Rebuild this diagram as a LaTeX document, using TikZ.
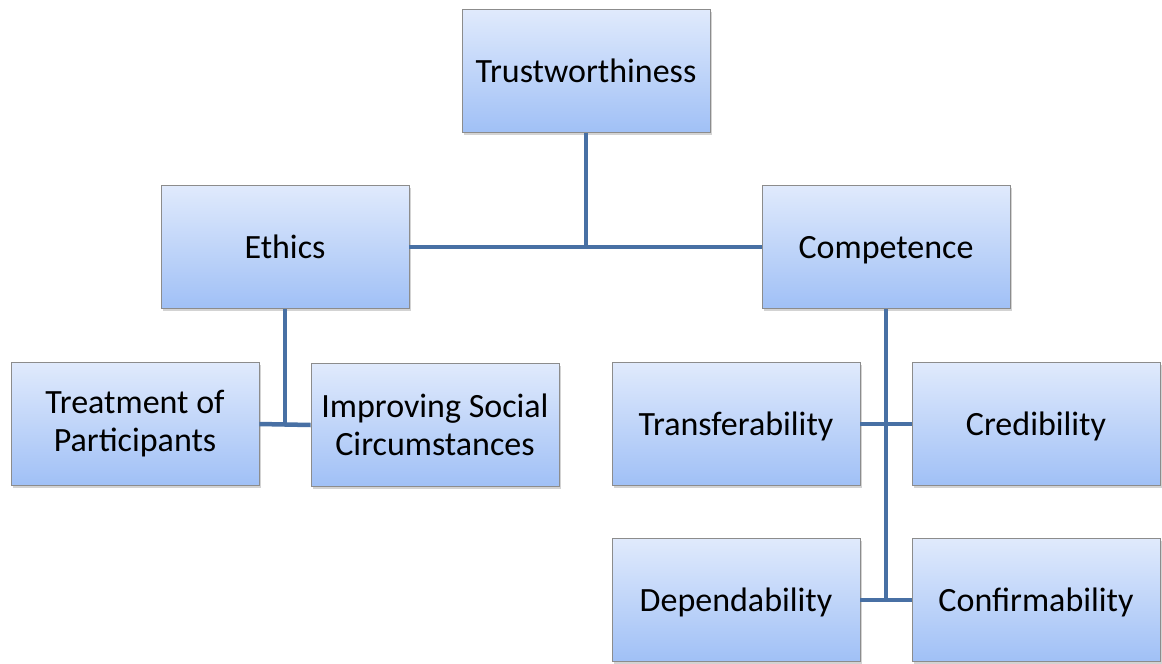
\documentclass[tikz,border=0pt]{standalone}
\usepackage{fontspec}
\setmainfont{Carlito}
\usetikzlibrary{shadows}
\definecolor{boxtop}{RGB}{224,234,252}
\definecolor{boxbot}{RGB}{160,192,246}
\definecolor{boxline}{RGB}{140,140,140}
\definecolor{linkblue}{RGB}{72,112,164}
\begin{document}
\begin{tikzpicture}[x=1pt, y=-1pt,
    termbox/.style={draw=boxline, line width=0.8pt, top color=boxtop, bottom color=boxbot,
        minimum width=248pt, minimum height=123pt, align=center, inner sep=0pt,
        font=\fontsize{34}{38}\selectfont,
        drop shadow={opacity=0.35, shadow xshift=2pt, shadow yshift=-2pt}},
    oneline/.style={termbox, text height=26pt, text depth=4pt},
    link/.style={draw=linkblue, line width=4.5pt}]

    \useasboundingbox (0, 0) rectangle (1162, 664);

    \node[oneline] (trust)    at (586, 71)  {Trustworthiness};
    \node[oneline] (ethics)   at (285, 247) {Ethics};
    \node[oneline] (comp)     at (886, 247) {Competence};
    \node[termbox] (treat)    at (135, 424) {Treatment of\\Participants};
    \node[termbox] (improve)  at (435, 425) {Improving Social\\Circumstances};
    \node[oneline] (transfer) at (736, 424) {Transferability};
    \node[oneline] (cred)     at (1036, 424) {Credibility};
    \node[oneline] (depend)   at (736, 600) {Dependability};
    \node[oneline] (confirm)  at (1036, 600) {Confirmability};

    \coordinate (top join) at (trust.south |- ethics.east);

    \draw[link] (trust.south) -- (top join);
    \draw[link] (ethics.east) -- (comp.west);

    \draw[link] (ethics.south) -- (ethics.south |- treat.east);
    \draw[link] (treat.east) -- (improve.west);

    \draw[link] (comp.south) -- (comp.south |- depend.east);
    \draw[link] (transfer.east) -- (cred.west);
    \draw[link] (depend.east) -- (confirm.west);

\end{tikzpicture}
\end{document}
